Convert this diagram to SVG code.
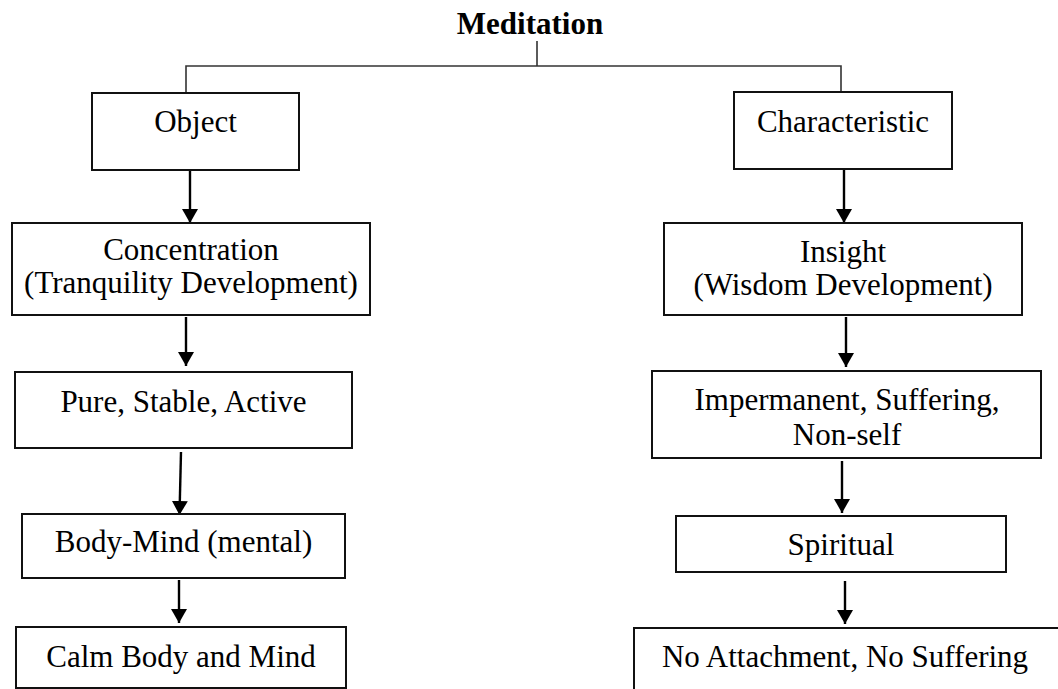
<svg xmlns="http://www.w3.org/2000/svg" width="1058" height="689" viewBox="0 0 1058 689">
<style>
.box{fill:#fff;stroke:#111;stroke-width:2}
.t{font-family:"Liberation Serif","Times New Roman",serif;font-size:31px;fill:#000;text-anchor:middle}
.title{font-family:"Liberation Serif","Times New Roman",serif;font-size:31px;font-weight:bold;fill:#000;text-anchor:middle}
.tree{fill:none;stroke:#333;stroke-width:1.6}
.arr{fill:none;stroke:#000;stroke-width:2.4;marker-end:url(#ah)}
</style>
<defs>
<marker id="ah" markerUnits="userSpaceOnUse" viewBox="0 0 14 16" refX="14" refY="8" markerWidth="14" markerHeight="16" orient="auto">
<path d="M0,0 L14,8 L0,16 z" fill="#000"/>
</marker>
</defs>
<rect width="1058" height="689" fill="#fff"/>
<g id="meditation"><text class="title" x="530" y="34">Meditation</text></g>
<g id="connectors">
<path class="tree" d="M537,41 V66 M186,93 V66 H841 V92"/>
<line class="arr" x1="190" y1="170" x2="190" y2="223"/>
<line class="arr" x1="186" y1="317" x2="186" y2="366"/>
<line class="arr" x1="181" y1="452" x2="179.5" y2="515"/>
<line class="arr" x1="179" y1="580" x2="179" y2="623"/>
<line class="arr" x1="844" y1="169" x2="844" y2="223"/>
<line class="arr" x1="846" y1="317" x2="846" y2="367"/>
<line class="arr" x1="842" y1="461" x2="842" y2="513"/>
<line class="arr" x1="845" y1="581" x2="845" y2="624"/>
</g>
<g id="object"><rect class="box" x="92" y="93" width="207" height="77"/><text class="t" x="195.5" y="132">Object</text></g>
<g id="characteristic"><rect class="box" x="734" y="92" width="218" height="77"/><text class="t" x="843" y="132">Characteristic</text></g>
<g id="concentration"><rect class="box" x="12" y="223" width="358" height="92"/><text class="t" x="191" y="260">Concentration</text><text class="t" x="191" y="293">(Tranquility Development)</text></g>
<g id="insight"><rect class="box" x="664" y="223" width="358" height="92"/><text class="t" x="843" y="262">Insight</text><text class="t" x="843" y="295">(Wisdom Development)</text></g>
<g id="pure"><rect class="box" x="15" y="372" width="337" height="76"/><text class="t" x="183.5" y="412">Pure, Stable, Active</text></g>
<g id="impermanent"><rect class="box" x="652" y="371" width="389" height="87"/><text class="t" x="847" y="410">Impermanent, Suffering,</text><text class="t" x="847" y="445">Non-self</text></g>
<g id="bodymind"><rect class="box" x="22" y="514" width="323" height="64"/><text class="t" x="183.5" y="552">Body-Mind (mental)</text></g>
<g id="spiritual"><rect class="box" x="676" y="516" width="330" height="56"/><text class="t" x="841" y="555">Spiritual</text></g>
<g id="calm"><rect class="box" x="16" y="627" width="330" height="61"/><text class="t" x="181" y="667">Calm Body and Mind</text></g>
<g id="noattachment"><rect class="box" x="634" y="628" width="440" height="80"/><text class="t" x="845" y="667">No Attachment, No Suffering</text></g>
</svg>
